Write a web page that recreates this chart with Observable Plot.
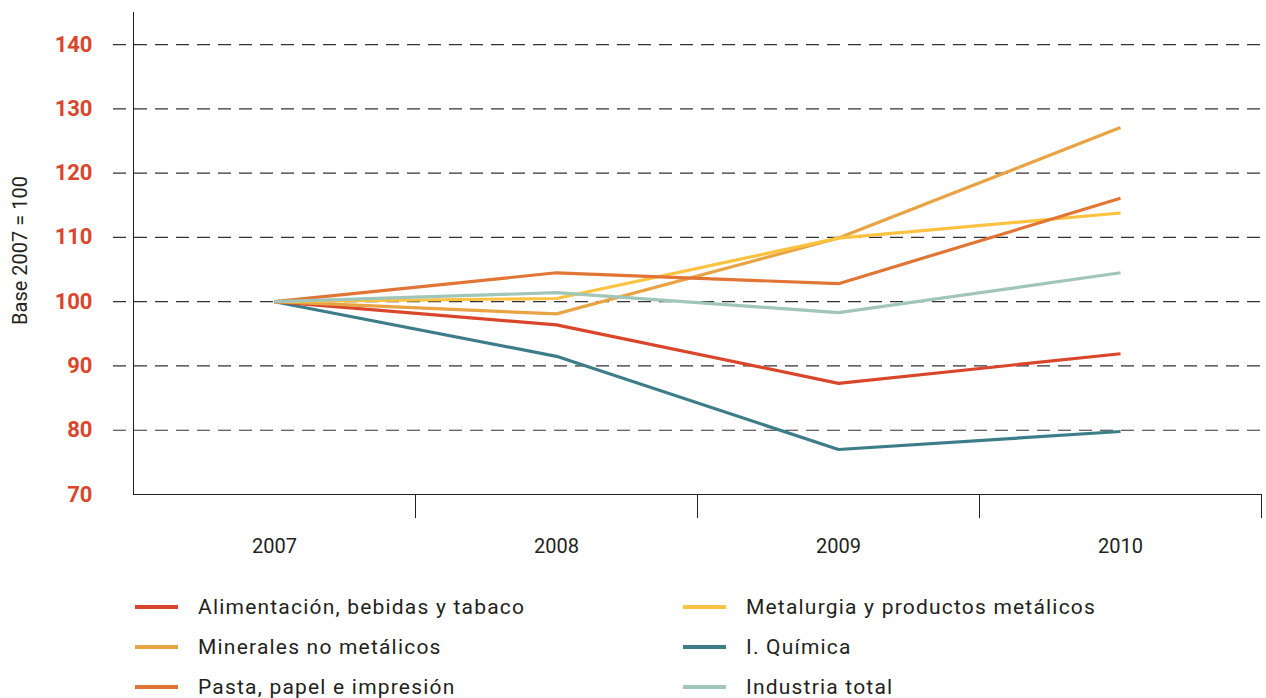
<!DOCTYPE html>
<html>
<head>
<meta charset="utf-8">
<script src="https://cdn.jsdelivr.net/npm/d3@7"></script>
<script src="https://cdn.jsdelivr.net/npm/@observablehq/plot@0.6"></script>
<style>
  html, body { margin: 0; padding: 0; background: #fff; }
  body { width: 1266px; height: 698px; overflow: hidden; font-family: Roboto, "Noto Sans", sans-serif; }
  #legend { display: grid; grid-template-columns: 548px 560px; margin-left: 135px; margin-top: 7px; }
  .item { display: flex; align-items: center; height: 40px; font-size: 21px; color: #231f20; letter-spacing: 1.2px; }
  .sw { width: 43px; height: 4px; margin-right: 20px; flex: none; }
</style>
</head>
<body>
<div id="chart"></div>
<div id="legend"></div>
<script>
const years = ["2007", "2008", "2009", "2010"];
const seriesNames = [
  "Alimentación, bebidas y tabaco",
  "Minerales no metálicos",
  "Pasta, papel e impresión",
  "Metalurgia y productos metálicos",
  "I. Química",
  "Industria total"
];
const seriesColors = ["#d9462b", "#e8a444", "#e07535", "#fdc340", "#3d7d89", "#9fc6b8"];
const alimentacion = [100, 96.4, 87.3, 91.9];
const minerales = [100, 98.1, 109.9, 127.1];
const pasta = [100, 104.5, 102.8, 116.1];
const metalurgia = [100, 100.5, 109.9, 113.8];
const quimica = [100, 91.5, 77.0, 79.8];
const industria = [100, 101.4, 98.3, 104.5];
const yTicks = [70, 80, 90, 100, 110, 120, 130, 140];
const yLabel = "Base 2007 = 100";

const seriesValues = [alimentacion, minerales, pasta, metalurgia, quimica, industria];
const data = seriesNames.flatMap((name, i) =>
  years.map((year, j) => ({series: name, year, value: seriesValues[i][j]}))
);
const drawOrder = ["I. Química", "Alimentación, bebidas y tabaco", "Minerales no metálicos", "Metalurgia y productos metálicos", "Pasta, papel e impresión", "Industria total"];

const plot = Plot.plot({
  width: 1266,
  height: 580,
  marginTop: 12,
  marginBottom: 86,
  marginLeft: 133,
  marginRight: 5,
  style: {fontFamily: "Roboto, sans-serif", background: "#fff"},
  x: {type: "band", domain: years, padding: 0},
  y: {domain: [70, 145]},
  color: {domain: seriesNames, range: seriesColors},
  marks: [
    Plot.ruleY(yTicks.filter(d => d > 70), {stroke: "#333", strokeWidth: 1.2, strokeDasharray: "13,8", insetLeft: -20, insetRight: -5}),
    Plot.axisY({ticks: yTicks, tickSize: 0, tickPadding: 41, fontSize: 22, fontWeight: "bold", fill: "#d9462b", label: null, style: {letterSpacing: "1px"}}),
    Plot.text([yLabel], {frameAnchor: "left", textAnchor: "middle", dx: -113, dy: -3, rotate: -90, fontSize: 20, fill: "#231f20", text: d => d, style: {letterSpacing: "0.5px"}}),
    Plot.axisX({ticks: years, tickSize: 24, dx: 141, tickFormat: () => "", stroke: "#231f20", label: null}),
    Plot.axisX({ticks: years, tickSize: 0, tickPadding: 44, fontSize: 20, fill: "#231f20", label: null, style: {letterSpacing: "1px"}}),
    Plot.ruleY([70], {stroke: "#231f20"}),
    Plot.ruleX(["2007"], {dx: -141, stroke: "#231f20"}),
    ...drawOrder.map(name => Plot.line(data.filter(d => d.series === name), {
      x: "year", y: "value", stroke: "series", strokeWidth: 3.2, strokeLinejoin: "miter", strokeLinecap: "butt"
    }))
  ]
});
document.getElementById("chart").appendChild(plot);

const legend = document.getElementById("legend");
const order = [0, 3, 1, 4, 2, 5];
order.forEach(i => {
  const it = document.createElement("div");
  it.className = "item";
  const sw = document.createElement("span");
  sw.className = "sw";
  sw.style.background = seriesColors[i];
  const tx = document.createElement("span");
  tx.textContent = seriesNames[i];
  it.appendChild(sw);
  it.appendChild(tx);
  legend.appendChild(it);
});
</script>
</body>
</html>
